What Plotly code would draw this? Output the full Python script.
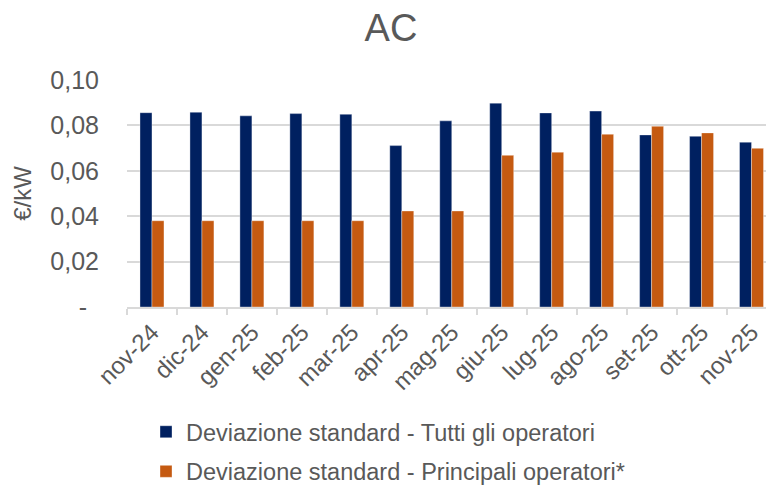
import plotly.graph_objects as go

categories = ["nov-24", "dic-24", "gen-25", "feb-25", "mar-25", "apr-25", "mag-25",
              "giu-25", "lug-25", "ago-25", "set-25", "ott-25", "nov-25"]
tutti = [0.0856, 0.0858, 0.0842, 0.0852, 0.0849, 0.0711, 0.0820,
         0.0898, 0.0855, 0.0863, 0.0758, 0.0752, 0.0726]
principali = [0.0380, 0.0380, 0.0380, 0.0380, 0.0380, 0.0423, 0.0423,
              0.0668, 0.0682, 0.0761, 0.0796, 0.0767, 0.0699]
ytick_vals = [0, 0.02, 0.04, 0.06, 0.08, 0.10]
ytick_text = ["-\u00a0\u2009", "0,02", "0,04", "0,06", "0,08", "0,10"]

FONT = "Liberation Sans, Arial, sans-serif"
GREY = "#595959"

fig = go.Figure()
fig.add_trace(go.Bar(x=categories, y=tutti, name="Deviazione standard - Tutti gli operatori",
                     marker=dict(color="#002060", line=dict(color="rgba(255,255,255,0.35)", width=1)),
                     legendgroup="a"))
fig.add_trace(go.Bar(x=categories, y=principali, name="Deviazione standard - Principali operatori*",
                     marker=dict(color="#C55A11", line=dict(color="rgba(255,255,255,0.35)", width=1)),
                     legendgroup="b"))

fig.update_layout(
    width=766, height=485,
    margin=dict(l=119, r=0, t=72, b=186, autoexpand=False),
    paper_bgcolor="white", plot_bgcolor="white",
    font=dict(family=FONT, color=GREY, size=24),
    title=dict(text="AC", x=0.5, xref="container", xanchor="center", y=0.959, yanchor="middle",
               font=dict(size=38, color=GREY, family=FONT)),
    barmode="group", bargap=0.52, bargroupgap=0,
    showlegend=True,
    legend=dict(orientation="v", xref="paper", yref="paper", x=0.0294, y=-0.4537,
                xanchor="left", yanchor="top", font=dict(size=23.5, color=GREY, family=FONT),
                traceorder="grouped", tracegroupgap=6, itemwidth=30),
)
fig.update_xaxes(
    range=[-0.5, 12.45], tickangle=-45, showgrid=False,
    showline=True, linecolor="#d9d9d9", linewidth=1.5,
    ticks="outside", tickson="boundaries", ticklen=6, tickcolor="#d9d9d9", tickwidth=1.5,
    tickfont=dict(size=24, color=GREY, family=FONT),
)
fig.update_yaxes(
    range=[0, 0.10], tickvals=ytick_vals, ticktext=ytick_text,
    showgrid=True, gridcolor="#d9d9d9", gridwidth=1.5, zeroline=False,
    showline=False, ticks="", ticklabelstandoff=27,
    tickfont=dict(size=25, color=GREY, family=FONT),
    title=dict(text="€/kW", font=dict(size=24, color=GREY, family=FONT), standoff=11),
)

fig.write_html("out.html")
